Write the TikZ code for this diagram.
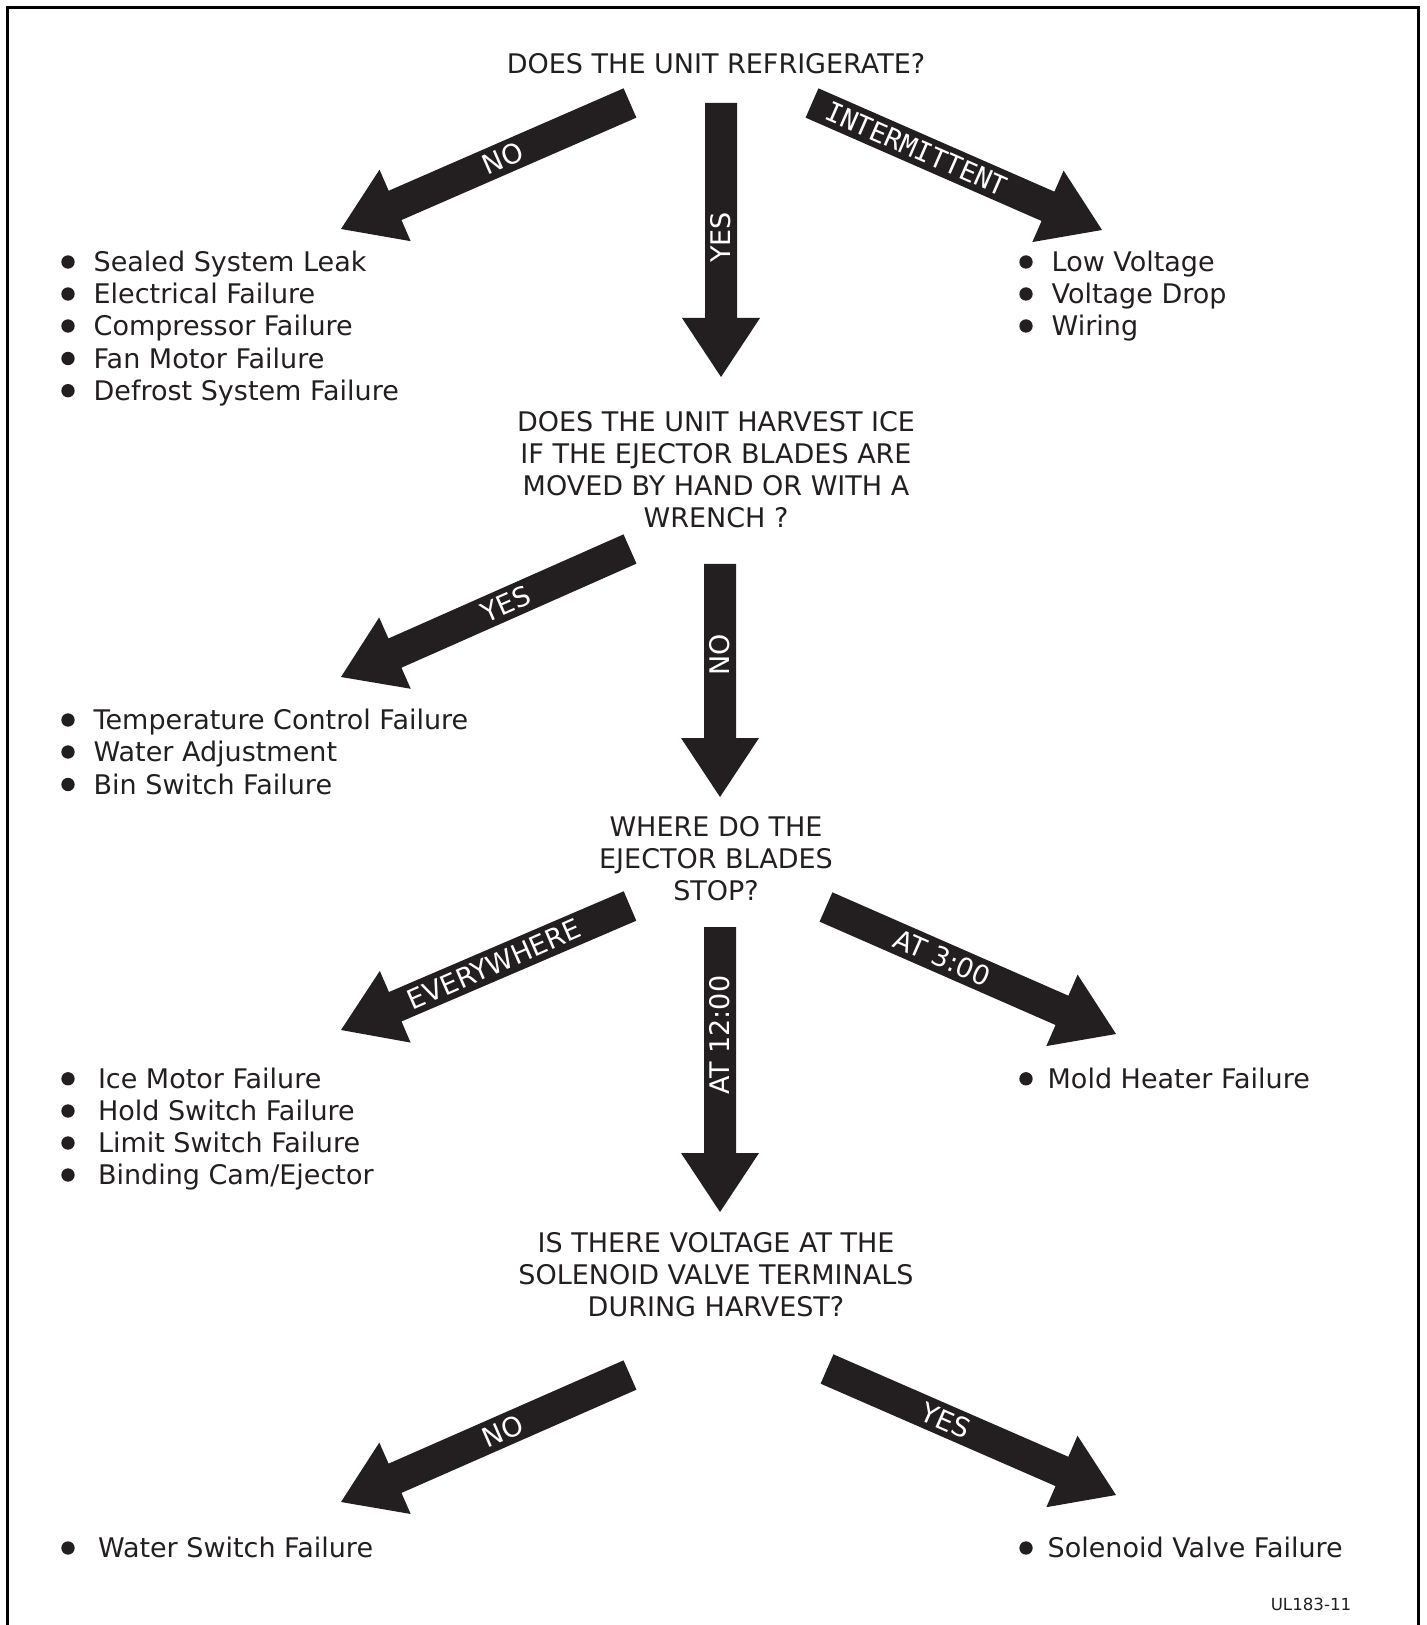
\documentclass[tikz,border=0pt]{standalone}
\usepackage{fontspec}
\setmainfont{DejaVu Sans}
\newfontfamily\monofont{DejaVu Sans Mono}
\usetikzlibrary{calc}
\definecolor{inkgray}{RGB}{35,31,32}

% half widths and head length of the big arrows
\def\shaft{4.8pt}
\def\headw{11.7pt}
\def\headlen{17.7pt}
\def\dotr{2pt}

% tail, tip, label position, label angle, label
\newcommand{\bigarrow}[5]{%
  \coordinate (#1n) at ($(#2)!\headlen!(#1)$);
  \fill[inkgray] ($(#1)!\shaft!90:(#2)$) -- ($(#1n)!\shaft!90:(#2)$)
    -- ($(#1n)!\headw!90:(#2)$) -- (#2) -- ($(#1n)!\headw!-90:(#2)$)
    -- ($(#1n)!\shaft!-90:(#2)$) -- ($(#1)!\shaft!-90:(#2)$) -- cycle;
  \node[flowlabel, rotate=#4] (#1lab) at ($(#1)!#3!(#2)$) {#5};
}

\begin{document}
\begin{tikzpicture}[x=0.3pt, y=-0.3pt, font=\fontsize{8.1}{9.63}\selectfont,
  question/.style={align=center, inner sep=0pt, text=inkgray},
  itembase/.style={anchor=west, inner sep=0pt, text height=5.9pt, text depth=0pt,
    text=inkgray},
  item/.style={itembase, xshift=7.5pt},
  itemwide/.style={itembase, xshift=8.8pt},
  itemnear/.style={itembase, xshift=6.3pt},
  flowlabel/.style={inner sep=0pt, text=white}]
\useasboundingbox (0,0) rectangle (1427,1625);
% frame
\draw[line width=0.9pt] (7.5,1625) -- (7.5,7.5) -- (1418.5,7.5) -- (1418.5,1625);

% questions
\node[question] (q1) at (716,64) {DOES THE UNIT REFRIGERATE?};
\node[question] (q2) at (716,470) {DOES THE UNIT HARVEST ICE\\IF THE EJECTOR BLADES ARE\\MOVED BY HAND OR WITH A\\WRENCH ?};
\node[question] (q3) at (716,859) {WHERE DO THE\\EJECTOR BLADES\\STOP?};
\node[question] (q4) at (716,1274.6) {IS THERE VOLTAGE AT THE\\SOLENOID VALVE TERMINALS\\DURING HARVEST?};

% arrow ends
\coordinate (t1) at (630,103);  \coordinate (h1) at (341,229);
\coordinate (t2) at (721,103);  \coordinate (h2) at (721,377);
\coordinate (t3) at (812,103);  \coordinate (h3) at (1102,230);
\coordinate (t4) at (630,549);  \coordinate (h4) at (341,677);
\coordinate (t5) at (720,564);  \coordinate (h5) at (720,797);
\coordinate (t6) at (630,906);  \coordinate (h6) at (341,1030);
\coordinate (t7) at (720,927);  \coordinate (h7) at (720,1212);
\coordinate (t8) at (826,907);  \coordinate (h8) at (1116,1034);
\coordinate (t9) at (630,1375); \coordinate (h9) at (341,1502);
\coordinate (t10) at (827,1369); \coordinate (h10) at (1116,1495);

% arrows
\bigarrow{t1}{h1}{0.44}{23.6}{NO}
\bigarrow{t2}{h2}{0.49}{90}{YES}
\bigarrow{t3}{h3}{0.36}{-23.6}{\monofont INTERMITTENT}
\bigarrow{t4}{h4}{0.43}{23.6}{YES}
\bigarrow{t5}{h5}{0.39}{90}{NO}
\bigarrow{t6}{h6}{0.47}{23.6}{EVERYWHERE}
\bigarrow{t7}{h7}{0.38}{90}{AT 12:00}
\bigarrow{t8}{h8}{0.40}{-23.6}{AT 3:00}
\bigarrow{t9}{h9}{0.44}{23.6}{NO}
\bigarrow{t10}{h10}{0.41}{-23.6}{YES}

% does not refrigerate
\fill[inkgray] (68,262) circle(\dotr) node[item] (a1) {Sealed System Leak};
\fill[inkgray] (68,294) circle(\dotr) node[item] (a2) {Electrical Failure};
\fill[inkgray] (68,326) circle(\dotr) node[item] (a3) {Compressor Failure};
\fill[inkgray] (68,358.5) circle(\dotr) node[item] (a4) {Fan Motor Failure};
\fill[inkgray] (68,390.7) circle(\dotr) node[item] (a5) {Defrost System Failure};
% intermittent
\fill[inkgray] (1026,262) circle(\dotr) node[item] (b1) {Low Voltage};
\fill[inkgray] (1026,294) circle(\dotr) node[item] (b2) {Voltage Drop};
\fill[inkgray] (1026,326) circle(\dotr) node[item] (b3) {Wiring};
% harvests by hand
\fill[inkgray] (68,720) circle(\dotr) node[item] (c1) {Temperature Control Failure};
\fill[inkgray] (68,752) circle(\dotr) node[item] (c2) {Water Adjustment};
\fill[inkgray] (68,784.5) circle(\dotr) node[item] (c3) {Bin Switch Failure};
% blades stop everywhere
\fill[inkgray] (68,1078.8) circle(\dotr) node[itemwide] (d1) {Ice Motor Failure};
\fill[inkgray] (68,1111) circle(\dotr) node[itemwide] (d2) {Hold Switch Failure};
\fill[inkgray] (68,1143) circle(\dotr) node[itemwide] (d3) {Limit Switch Failure};
\fill[inkgray] (68,1175) circle(\dotr) node[itemwide] (d4) {Binding Cam/Ejector};
% blades stop at 3:00
\fill[inkgray] (1026,1078.8) circle(\dotr) node[itemnear] (e1) {Mold Heater Failure};
% solenoid voltage
\fill[inkgray] (68,1548) circle(\dotr) node[itemwide] (f1) {Water Switch Failure};
\fill[inkgray] (1026,1548) circle(\dotr) node[itemnear] (g1) {Solenoid Valve Failure};

\node[inner sep=0pt, text=inkgray, font=\fontsize{5}{6}\selectfont] (code) at (1311,1604) {UL183-11};
\end{tikzpicture}
\end{document}
